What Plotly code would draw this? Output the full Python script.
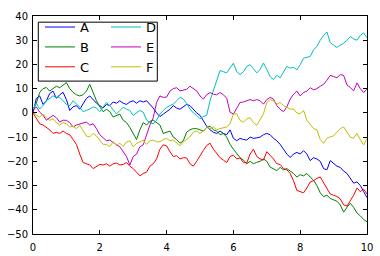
import numpy as np
import plotly.graph_objects as go

x = np.round(np.arange(0, 101) * 0.1, 1)

A = [0, 6, 7, 3.5, 5, 8, 9, 6, 7.5, 8.5,
     5.5, 1, 2.5, 3, 1.5, 4, 6, 7, 5.5, 4,
     3, 2, 3.5, 3, 4.5, 4, 5, 4, 3.5, 4.5,
     5, 4, 5, 4.5, 5, 3.5, 2, 0, -1.5, -0.5,
     0.5, 1.5, 3, 2, 1.5, 2.5, 3.5, 3, 1.5, 0,
     -1, -3.5, -5.5, -7, -8, -8.5, -7.5, -8.5, -9, -7,
     -10.5, -11.5, -10.5, -11, -11.2, -10, -10.5, -10.3, -10, -9,
     -8.5, -9, -10.5, -11.5, -13, -15, -17, -18.4, -17, -16.3,
     -17, -15.6, -17, -19.7, -18.5, -19, -20, -23, -23.5, -19.7,
     -21, -22, -22.5, -24, -25, -27, -29, -28.5, -30, -32.5,
     -35]

B = [1, 4, 8.5, 10, 10.5, 9, 10, 11, 10.4, 11.5,
     12.5, 10, 8.5, 7.5, 7, 7.5, 9, 11.8, 8, 5,
     2.5, 0.5, 1.5, 0.5, -1.7, -1, -0.5, -3, -4, -6,
     -8.5, -11, -7, -4, -5, -3.5, -3, -4, -5, -8.5,
     -8, -7.5, -10, -11, -12.5, -11.5, -8, -7, -6.5, -6.5,
     -7, -7.5, -6, -5.5, -7, -7.5, -9, -8.5, -10, -13,
     -15, -17, -18.5, -19.5, -21, -20, -21, -20.4, -20, -19,
     -20, -22.4, -23, -23.8, -22.5, -23.5, -23, -24, -25, -26.5,
     -25.5, -26, -25, -26.5, -27.8, -30, -33, -34.6, -34, -35.3,
     -36, -36.5, -38, -41, -39, -37.3, -39, -41.3, -42.5, -44,
     -45]

C = [0, -2.5, -4.5, -5, -6, -7, -8.5, -8, -8.5, -7.5,
     -8.5, -9, -11, -13, -17, -20.5, -21, -21.5, -23, -22,
     -21.3, -21.5, -21, -22, -21, -20.7, -21.5, -21.3, -20.5, -22,
     -23, -24.5, -26, -25, -24.5, -22, -21, -19, -15, -13.2,
     -13.6, -16, -18, -17.7, -19, -18.5, -18.6, -21, -22, -20,
     -17.5, -15.5, -13.5, -12.5, -15, -17, -18.5, -19.5, -20.5, -18,
     -17.5, -19, -18.6, -20.5, -20.7, -17, -15, -18, -19, -19.5,
     -16, -17.5, -19, -21, -21.3, -23, -23.5, -25, -28, -32,
     -32.5, -33, -31, -28.5, -28, -27, -26.5, -28.8, -31, -33.5,
     -34, -34.5, -35.5, -38, -38.5, -36.5, -34, -31, -32.5, -31.5,
     -33.5]

D = [1.5, 4, 1.6, 3, 5, 6, 7, 6.5, 6.4, 5,
     3.5, 3, 5, 3.6, 2.5, 0.5, 1, 1.6, 2.5, 2,
     0.5, 2.5, 4.3, 3, 1.5, -0.4, 1, 2.3, 1.5, 1,
     -1, 0, 1, 0.3, -3, -4, -4.5, -3, -0.5, 1,
     2.3, 3, 3.6, 5, 6.4, 5.7, 4, 1.6, 0, -1,
     -2.4, -1.5, -1, 5, 9, 13.5, 17.5, 17, 16.5, 18.5,
     20.5, 17, 15.8, 17, 19.2, 19.9, 18, 16.5, 18, 20.6,
     18, 15, 13.8, 15.5, 14.5, 17, 19.2, 18.5, 18.8, 17.8,
     19.9, 22.6, 23, 23.3, 26, 27.5, 30, 32, 33.4, 29,
     28, 27, 28, 28.7, 30, 31.5, 30.5, 30, 32, 33,
     31]

E = [1, 2.5, 0.3, -1, -3, -2, -1, -2, -3.8, -3,
     -3.1, -4, -5.8, -5, -4.5, -4, -3.8, -5, -4.5, -6.5,
     -9, -10.3, -11.5, -11.2, -12.3, -13.2, -14, -16, -18, -21.5,
     -18, -17, -14, -13.2, -9, -5, -2, 4.3, 7, 6.4,
     6.5, 9, 10, 10.4, 9.1, 9.5, 9.7, 11, 10, 9.1,
     7, 5.7, 7.5, 8.4, 7.7, 7.5, 8.4, 7.5, 6, 0.3,
     -0.5, 2, 4.3, 4.5, 5, 5.5, 5, 5.5, 5, 3.6,
     5.5, 6.4, 5.7, 3, 1.5, 0.5, 2.5, 5.7, 7.7, 9,
     7, 8.4, 9, 10.4, 9.5, 10, 11, 11.8, 13.5, 15.5,
     15, 14.5, 15.8, 15.5, 11.5, 10.5, 9.1, 12.4, 10, 8.4,
     10]

F = [0.5, -1, -1.7, -0.4, -2, -3.1, -2.4, -4, -5, -4,
     -4.5, -5.8, -5.5, -6.5, -5.1, -7.1, -9.6, -9.9, -8.5, -9.5,
     -11.5, -13, -13, -13.9, -11.9, -13.5, -12.5, -13.9, -12, -11.5,
     -14, -12.6, -12, -11.2, -13, -11.6, -11.2, -12, -11.9, -11,
     -10.5, -11.5, -11.2, -12.5, -13.6, -12, -11, -9.9, -8, -7.5,
     -8.5, -7.5, -6, -6.5, -5.8, -7, -6.5, -6, -5.8, -4.5,
     -0.5, -0.4, -3.1, -3.8, -2.5, -2, -4, -5.1, -3, -0.4,
     4.3, 5.5, 5, 3.6, 4.3, 3, 2.3, 1.6, 1.6, 0,
     -0.4, 1, -3, -5, -6.5, -7, -11, -12.6, -10.5, -9.9,
     -9.5, -8, -6.5, -5.8, -7.8, -10, -10.5, -8.5, -11, -13.2,
     -10.5]

names = ["A", "B", "C", "D", "E", "F"]
series = [A, B, C, D, E, F]
colors = ["#0000ff", "#008000", "#ff0000", "#00bfbf", "#bf00bf", "#bfbf00"]
legend_ids = ["legend", "legend", "legend", "legend2", "legend2", "legend2"]

fig = go.Figure()
for n, s, c, lg in zip(names, series, colors, legend_ids):
    fig.add_trace(go.Scatter(x=x, y=s, mode="lines", name=n,
                             line=dict(color=c, width=1), legend=lg))

L, R, T, B_ = 33, 13, 12, 22
W, H = 380, 256
pw, ph = W - L - R, H - T - B_

def px2x(p):
    return (p - L) / pw

def px2y(p):
    return 1 - (p - T) / ph

axis_common = dict(showline=True, linecolor="black", linewidth=1, mirror="ticks",
                   ticks="inside", ticklen=4, tickcolor="black", showgrid=False,
                   zeroline=False, automargin=False,
                   tickfont=dict(family="DejaVu Sans", size=10, color="black"))

legend_style = dict(bgcolor="rgba(0,0,0,0)", borderwidth=0,
                    font=dict(family="DejaVu Sans", size=13, color="black"),
                    xanchor="left", yanchor="top", tracegroupgap=0)

fig.update_layout(
    width=W, height=H,
    margin=dict(l=L, r=R, t=T, b=B_),
    paper_bgcolor="white", plot_bgcolor="white",
    xaxis=dict(range=[0, 10], dtick=2, ticklabelstandoff=4, **axis_common),
    yaxis=dict(range=[-50, 40], dtick=10, ticklabelstandoff=2, **axis_common),
    showlegend=True,
    legend=dict(x=px2x(40), y=px2y(8), **legend_style),
    legend2=dict(x=px2x(106), y=px2y(8), **legend_style),
    shapes=[dict(type="rect", xref="paper", yref="paper",
                 x0=px2x(38.3), x1=px2x(157.3), y0=px2y(78.3), y1=px2y(18.3),
                 line=dict(color="black", width=1), fillcolor="white", layer="above")],
)

fig.write_html("out.html")
